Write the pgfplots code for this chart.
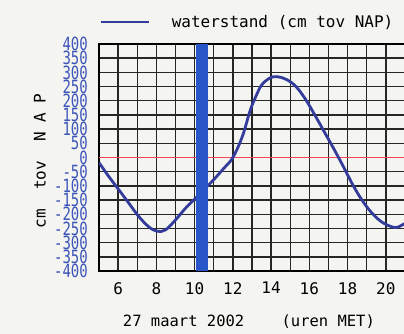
\documentclass[border=0pt]{standalone}
\usepackage{pgfplots}
\pgfplotsset{compat=1.18}
\usepackage{fontspec}
\setmainfont{DejaVu Sans Mono}
\usetikzlibrary{backgrounds}
\definecolor{bgc}{RGB}{244,244,241}
\definecolor{curve}{RGB}{52,60,155}
\definecolor{barc}{RGB}{40,85,200}
\definecolor{labc}{RGB}{60,85,185}
\definecolor{zeroc}{RGB}{245,70,90}
\begin{document}
\begin{tikzpicture}
\begin{axis}[
  name=ax,
  scale only axis,
  width=306pt, height=227pt,
  at={(99pt,63pt)}, anchor=south west,
  xmin=5, xmax=21, ymin=-400, ymax=400,
  xtick={6,8,...,20},
  minor xtick={5,7,...,21},
  ytick={-400,-350,...,400},
  grid=both,
  major grid style={black!85, line width=1.4pt},
  minor grid style={black!85, line width=1.4pt},
  axis line style={black, line width=1.8pt},
  major tick length=0pt, minor tick length=0pt,
  /pgf/number format/assume math mode=true,
  font=\fontsize{16}{16}\selectfont,
  xticklabel style={font=\fontsize{16}{16}\selectfont, anchor=north, inner sep=0pt, yshift=-11pt},
  yticklabel style={font=\fontsize{14}{14}\selectfont, text=labc, anchor=east, inner sep=0pt, xshift=-11pt, yscale=1.3},
  xlabel={27 maart 2002~~~~(uren MET)},
  xlabel style={font=\fontsize{15.5}{16}\selectfont, at={(axis description cs:0.49,0)}, anchor=center, yshift=-51pt, inner sep=0pt},
  ylabel={cm~~tov~~N~A~P},
  ylabel style={at={(axis description cs:-0.193,0.485)}, anchor=center, inner sep=0pt},
  legend style={at={(axis description cs:0,1)}, anchor=west, yshift=22pt, xshift=0pt,
    draw=none, fill=none, inner sep=0pt, font=\fontsize{16}{16}\selectfont,
    /tikz/every even column/.append style={column sep=0pt}},
  legend image code/.code={\draw[#1, line width=2.6pt] (0pt,0pt) -- (48pt,0pt);},
  legend cell align=left,
]
\addplot[zeroc, line width=1.5pt, forget plot] coordinates {(5,0) (21,0)};
\addplot[curve, line width=2.8pt, smooth, tension=0.6] coordinates {
(5.0,-18) (5.5,-66) (6.04,-114) (6.56,-161) (7.08,-208) (7.6,-244) (8.04,-260)
(8.48,-255) (9.0,-220) (9.52,-179) (10.04,-144) (10.5,-112) (11.0,-78) (11.5,-40)
(12.0,0) (12.5,75) (12.9,165) (13.2,215) (13.5,255) (13.9,279) (14.3,285)
(14.8,275) (15.3,250) (15.8,205) (16.3,148) (16.8,88) (17.3,28) (17.8,-35)
(18.3,-100) (18.8,-155) (19.3,-198) (19.8,-228) (20.3,-244) (20.6,-246) (21.0,-232)
};
\addlegendentry{\hspace{20pt}waterstand (cm tov NAP)}
\addplot[draw=none, fill=barc, forget plot] coordinates {(10.05,-400) (10.7,-400) (10.7,400) (10.05,400)} -- cycle;
\end{axis}
\begin{pgfonlayer}{background}
\fill[bgc] (0,0) rectangle (404pt,334pt);
\end{pgfonlayer}
\pgfresetboundingbox
\useasboundingbox (0,0) rectangle (404pt,334pt);
\end{tikzpicture}
\end{document}
